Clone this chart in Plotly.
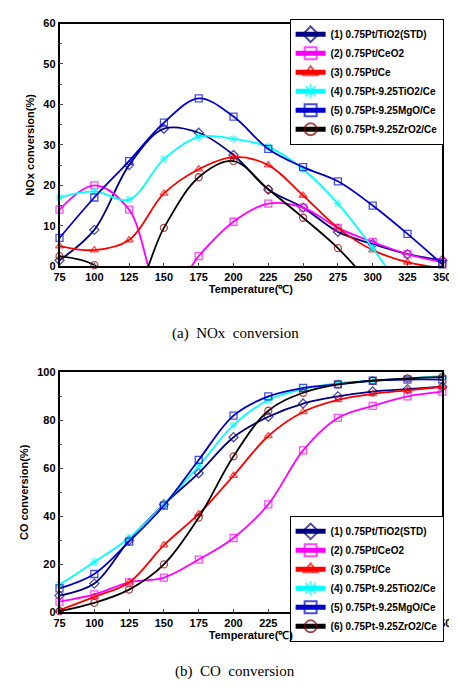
import plotly.graph_objects as go

temps = [75, 100, 125, 150, 175, 200, 225, 250, 275, 300, 325, 350]
names = ["(1) 0.75Pt/TiO2(STD)", "(2) 0.75Pt/CeO2", "(3) 0.75Pt/Ce",
         "(4) 0.75Pt-9.25TiO2/Ce", "(5) 0.75Pt-9.25MgO/Ce", "(6) 0.75Pt-9.25ZrO2/Ce"]

# NOx conversion (%); negative values are off-scale points hidden below 0
nox = [
    [1.5, 9, 25, 34, 33, 27.5, 19, 14.5, 8.5, 5.5, 3, 1.5],
    [14, 20, 14, -9, 2.5, 11, 15.5, 14.5, 9.5, 6, 3, 1],
    [5, 4, 6.5, 18, 24, 27, 25, 17.5, 9.5, 4, 1, -0.5],
    [17, 18.5, 16.5, 26.5, 32, 31.5, 29.5, 24, 15.5, 4.5, -8, None],
    [7, 17, 26, 35.5, 41.5, 37, 29, 24.5, 21, 15, 8, 0.5],
    [2.5, 0.3, -8, 9.5, 22, 26, 19, 12, 4.5, -5, None, None],
]
# CO conversion (%)
co = [
    [7, 12, 30, 45, 58, 73, 81.5, 87, 90, 92, 93, 94],
    [4.5, 7.5, 12.5, 14.5, 22, 31, 45, 67.5, 81, 86, 90, 92],
    [1, 6.5, 12.5, 28, 41, 57, 73.5, 83.5, 88.5, 91, 92.5, 94],
    [11.5, 21, 31, 45, 61, 78, 88.5, 93, 95.5, 96.5, 97.5, 98.5],
    [10, 16, 29.5, 44.5, 63.5, 82, 90, 93.5, 95, 96.5, 97, 97],
    [0.5, 4, 9.5, 20, 39.5, 65, 84, 91.5, 95, 96.5, 97.5, 98],
]

colors = ["#000080", "#FF00FF", "#FF0000", "#00FFFF", "#0000CC", "#000000"]
symbols = ["diamond-open", "square-open", "triangle-up-open", "asterisk-open",
           "square-open", "circle-open"]
msym_color = ["#000080", "#FF00FF", "#FF0000", "#00FFFF", "#0000CC", "#800000"]


def sizes(vals):
    # hide markers that fall below the axis
    return [7 if (v is not None and v >= 0) else 0 for v in vals]


fig = go.Figure()
for i in range(6):
    for vals, xa, ya, lg in [(nox[i], "x", "y", "legend"), (co[i], "x2", "y2", "legend2")]:
        fig.add_trace(go.Scatter(
            x=temps, y=vals, name="<b>" + names[i] + "</b>", mode="lines+markers",
            line=dict(color=colors[i], width=1.8, shape="spline", smoothing=1),
            marker=dict(symbol=symbols[i], size=sizes(vals), color=msym_color[i], line=dict(width=1.3)),
            cliponaxis=False, xaxis=xa, yaxis=ya, legend=lg))

font = dict(family="Liberation Sans", size=12, color="black")
ax = dict(showgrid=False, zeroline=False, showline=True, mirror=True, linecolor="black",
          linewidth=1.5, ticks="inside", ticklen=4,
          tickfont=dict(family="Liberation Sans", size=11, color="black"))

leg = dict(bgcolor="white", bordercolor="black", borderwidth=1, xanchor="right",
           yanchor="top", font=dict(family="Liberation Sans", size=10, color="black"),
           tracegroupgap=0, itemwidth=30, itemsizing="constant")

xt = [f"<b>{t}</b>" for t in temps]

fig.update_layout(
    width=457, height=692, margin=dict(l=0, r=0, t=0, b=0),
    plot_bgcolor="white", paper_bgcolor="white", font=font,
    xaxis=dict(ax, domain=[0.103, 0.969], range=[75, 350], tickvals=temps, ticktext=xt, anchor="y",
               title=dict(text="<b>Temperature(℃)</b>", font=dict(size=11), standoff=2)),
    yaxis=dict(ax, domain=[0.629, 0.986], range=[0, 60], dtick=10, minor=dict(dtick=5, ticks="inside", ticklen=3),
               tickprefix="<b>", ticksuffix="</b>",
               anchor="x", title=dict(text="<b>NOx conversion(%)</b>", font=dict(size=11), standoff=6)),
    xaxis2=dict(ax, domain=[0.103, 0.969], range=[75, 350], tickvals=temps, ticktext=xt, anchor="y2",
                title=dict(text="<b>Temperature(℃)</b>", font=dict(size=11), standoff=2)),
    yaxis2=dict(ax, domain=[0.120, 0.473], range=[0, 100], dtick=20, minor=dict(dtick=10, ticks="inside", ticklen=3),
                tickprefix="<b>", ticksuffix="</b>",
                anchor="x2", title=dict(text="<b>CO conversion(%)</b>", font=dict(size=11), standoff=6)),
    legend=dict(leg, x=0.972, y=0.993),
    legend2=dict(leg, x=0.972, y=0.262),
    annotations=[
        dict(text="(a)  NOx  conversion", x=0.5, y=0.53, xref="paper", yref="paper", showarrow=False,
             xanchor="center", font=dict(family="Liberation Serif", size=15, color="black")),
        dict(text="(b)  CO  conversion", x=0.5, y=0.018, xref="paper", yref="paper", showarrow=False,
             xanchor="center", font=dict(family="Liberation Serif", size=15, color="black")),
    ],
)

fig.write_html("out.html")
